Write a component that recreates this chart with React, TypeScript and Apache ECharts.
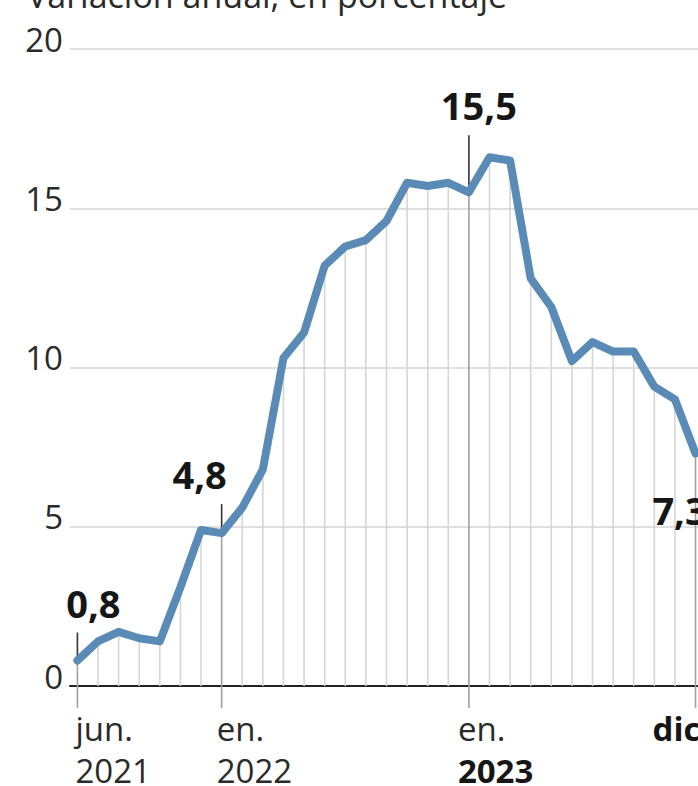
import React, { useEffect, useRef } from "react";
import * as echarts from "echarts";

// ---- data ----
const title = "Variación anual, en porcentaje";
const months = [
  "jun. 2021", "jul. 2021", "ago. 2021", "sep. 2021", "oct. 2021", "nov. 2021", "dic. 2021",
  "en. 2022", "feb. 2022", "mar. 2022", "abr. 2022", "may. 2022", "jun. 2022", "jul. 2022",
  "ago. 2022", "sep. 2022", "oct. 2022", "nov. 2022", "dic. 2022",
  "en. 2023", "feb. 2023", "mar. 2023", "abr. 2023", "may. 2023", "jun. 2023", "jul. 2023",
  "ago. 2023", "sep. 2023", "oct. 2023", "nov. 2023", "dic. 2023",
];
const values = [
  0.8, 1.4, 1.7, 1.5, 1.4, 3.1, 4.9,
  4.8, 5.6, 6.8, 10.3, 11.1, 13.2, 13.8, 14.0, 14.6, 15.8, 15.7, 15.8,
  15.5, 16.6, 16.5, 12.8, 11.9, 10.2, 10.8, 10.5, 10.5, 9.4, 9.0, 7.3,
];
const yTicks = [0, 5, 10, 15, 20];
const xTickIndex = [0, 7, 19, 30];
const xTickMonth = ["jun.", "en.", "en.", "dic."];
const xTickYear = ["2021", "2022", "2023", ""];
const xTickMonthBold = [false, false, false, true];
const xTickYearBold = [false, false, true, true];
const labelledIndex = [0, 7, 19, 30];

// ---- layout / style (kept separate from data) ----
const FONT = '"Open Sans", sans-serif';
const LINE_COLOR = "#5a8bb6";
const TEXT_COLOR = "#2a2a2a";
const BOLD_COLOR = "#161616";
const xTickDx = [-2, -5, -11, -43];
const annLayout = [
  { dx: 16, dy: -58, leader: 30 },
  { dx: -22, dy: -59, leader: 30 },
  { dx: 10, dy: -87, leader: 30 },
  { dx: -16, dy: 57, leader: 0 },
];

const fmt = (v: number) => v.toFixed(1).replace(".", ",");

export default function App() {
  const ref = useRef<HTMLDivElement>(null);

  useEffect(() => {
    if (!ref.current) return;
    const chart = echarts.init(ref.current, undefined, { renderer: "svg" });

    const lineData = values.map((v, i) => [i, v]);
    const annData = labelledIndex.map((i) => [i, values[i]]);
    const tickData = xTickIndex.map((i) => [i, 0]);

    const option: any = {
      animation: false,
      grid: { left: 70, right: 0, top: 49, bottom: 100 },
      xAxis: {
        type: "value",
        min: -0.36,
        max: 30.12,
        axisLine: { show: true, lineStyle: { color: "#222", width: 2 } },
        axisTick: { show: false },
        axisLabel: { show: false },
        splitLine: { show: false },
      },
      yAxis: {
        type: "value",
        min: yTicks[0],
        max: yTicks[yTicks.length - 1],
        interval: yTicks[1] - yTicks[0],
        axisLine: { show: false },
        axisTick: { show: false },
        axisLabel: {
          color: TEXT_COLOR,
          fontSize: 33,
          fontFamily: FONT,
          margin: 7,
          verticalAlign: "bottom",
          lineHeight: 20,
        },
        splitLine: { lineStyle: { color: "#d4d4d4", width: 1.5 } },
      },
      graphic: [
        {
          type: "text",
          x: 27,
          y: -5,
          style: {
            text: title,
            fill: TEXT_COLOR,
            font: `34px ${FONT}`,
            align: "left",
            verticalAlign: "middle",
          },
        },
      ],
      series: [
        {
          name: "drops",
          type: "custom",
          coordinateSystem: "cartesian2d",
          silent: true,
          z: 1,
          data: lineData,
          encode: { x: 0, y: 1 },
          renderItem: (params: any, api: any) => {
            const i = api.value(0);
            const top = api.coord([i, api.value(1)]);
            const base = api.coord([i, 0]);
            const marked = labelledIndex.indexOf(i) >= 0;
            return {
              type: "line",
              shape: { x1: top[0], y1: top[1], x2: base[0], y2: base[1] + (marked ? 22 : 0) },
              style: { stroke: marked ? "#a0a0a0" : "#d6d6d6", lineWidth: 1.6 },
            };
          },
        },
        {
          name: "annotations",
          type: "custom",
          coordinateSystem: "cartesian2d",
          silent: true,
          clip: false,
          z: 2,
          data: annData,
          encode: { x: 0, y: 1 },
          renderItem: (params: any, api: any) => {
            const k = params.dataIndex;
            const v = api.value(1);
            const p = api.coord([api.value(0), v]);
            const L = annLayout[k];
            const children: any[] = [];
            if (L.leader) {
              children.push({
                type: "line",
                shape: { x1: p[0], y1: p[1], x2: p[0], y2: p[1] + L.dy + L.leader },
                style: { stroke: "#333", lineWidth: 1.6 },
              });
            }
            children.push({
              type: "text",
              x: p[0] + L.dx,
              y: p[1] + L.dy,
              style: {
                text: fmt(v),
                fill: BOLD_COLOR,
                font: `bold 38px ${FONT}`,
                align: "center",
                verticalAlign: "middle",
              },
            });
            return { type: "group", children };
          },
        },
        {
          name: "xlabels",
          type: "custom",
          coordinateSystem: "cartesian2d",
          silent: true,
          clip: false,
          z: 2,
          data: tickData,
          encode: { x: 0, y: 1 },
          renderItem: (params: any, api: any) => {
            const k = params.dataIndex;
            const p = api.coord([api.value(0), 0]);
            const children: any[] = [
              {
                type: "text",
                x: p[0] + xTickDx[k],
                y: p[1] + 42.5,
                style: {
                  text: xTickMonth[k],
                  fill: xTickMonthBold[k] ? BOLD_COLOR : TEXT_COLOR,
                  font: `${xTickMonthBold[k] ? "bold " : ""}33px ${FONT}`,
                  align: "left",
                  verticalAlign: "middle",
                },
              },
            ];
            if (xTickYear[k]) {
              children.push({
                type: "text",
                x: p[0] + xTickDx[k],
                y: p[1] + 84.5,
                style: {
                  text: xTickYear[k],
                  fill: xTickYearBold[k] ? BOLD_COLOR : TEXT_COLOR,
                  font: `${xTickYearBold[k] ? "bold " : ""}33px ${FONT}`,
                  align: "left",
                  verticalAlign: "middle",
                },
              });
            }
            return { type: "group", children };
          },
        },
        {
          name: "Variación anual",
          type: "line",
          z: 3,
          data: lineData,
          showSymbol: false,
          symbol: "none",
          silent: true,
          lineStyle: { color: LINE_COLOR, width: 8, cap: "round", join: "round" },
        },
      ],
    };

    chart.setOption(option);
    return () => chart.dispose();
  }, []);

  return (
    <div
      ref={ref}
      data-months={months.length}
      style={{ position: "absolute", left: 0, top: 0, width: 698, height: 786 }}
    />
  );
}
